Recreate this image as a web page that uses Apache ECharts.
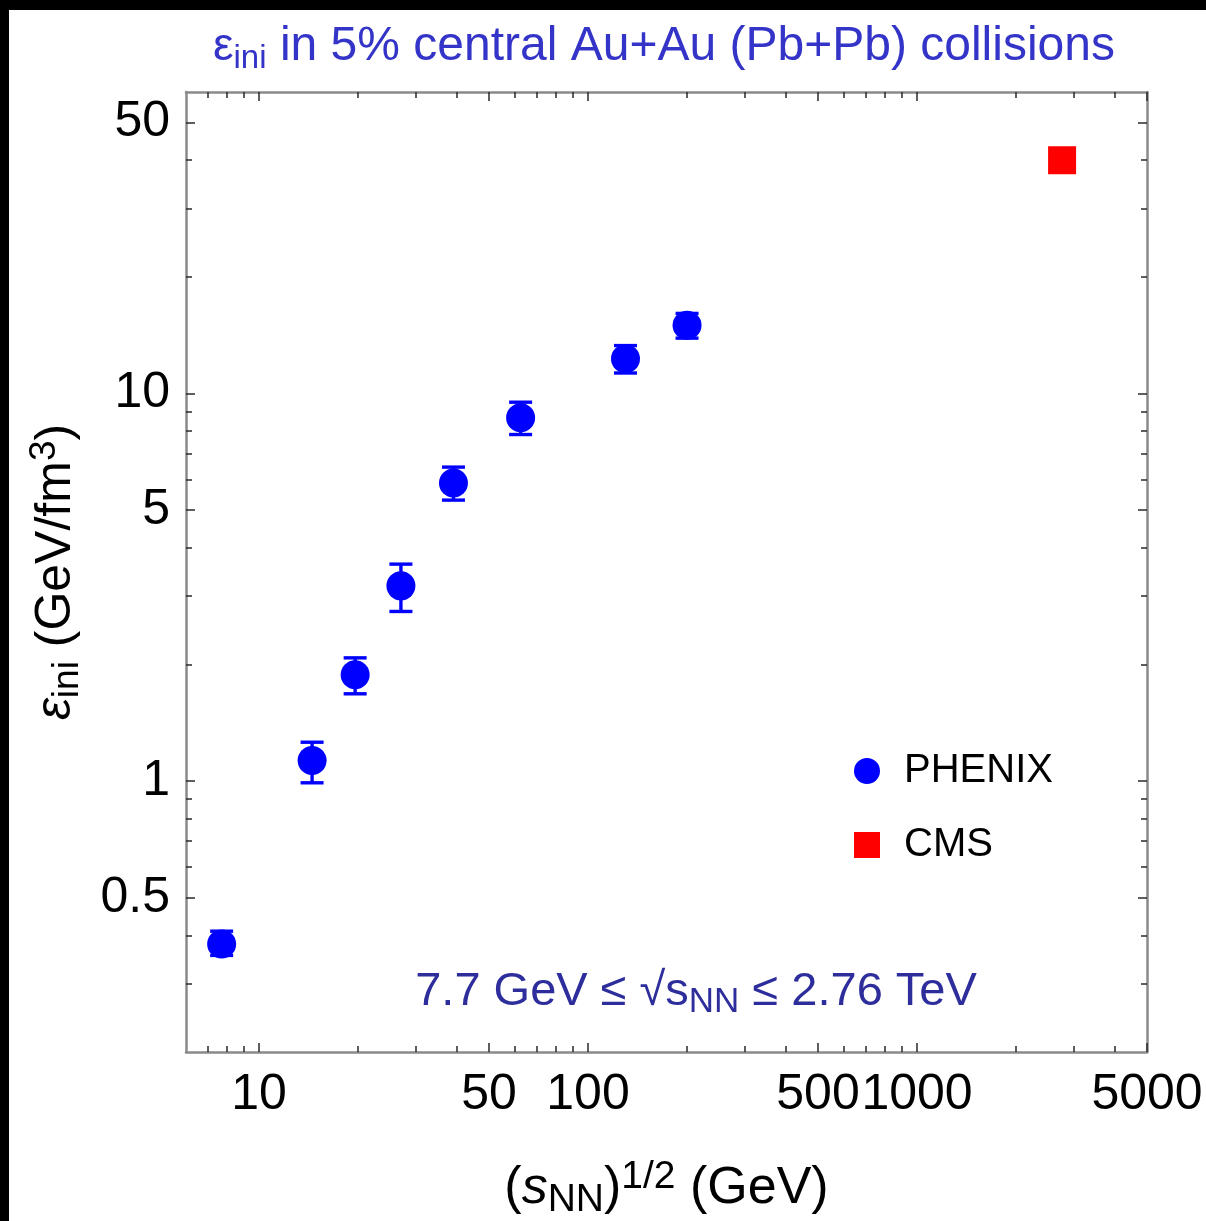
<!DOCTYPE html>
<html>
<head>
<meta charset="utf-8">
<script src="https://cdn.jsdelivr.net/npm/echarts@6/dist/echarts.min.js"></script>
<style>
  html, body { margin: 0; padding: 0; background: #000; width: 1206px; height: 1221px; overflow: hidden; }
  #chart { position: absolute; left: 9px; top: 10px; width: 1197px; height: 1211px; background: #fff; }
</style>
</head>
<body>
<div id="chart"></div>
<script>
// Initial energy density in 5% most central collisions vs. collision energy
const phenixEnergy  = [7.7, 14.5, 19.6, 27, 39, 62.4, 130, 200];           // GeV
const phenixEps     = [0.38, 1.13, 1.88, 3.19, 5.88, 8.66, 12.3, 15.0];     // GeV/fm^3
const phenixErrLow  = [0.355, 0.99, 1.68, 2.74, 5.31, 7.84, 11.3, 13.9];
const phenixErrHigh = [0.41, 1.26, 2.08, 3.63, 6.46, 9.5, 13.3, 16.1];
const cmsEnergy = [2760];
const cmsEps    = [40];

// Axis ticks (log scales)
const xMajorTicks = [10, 50, 100, 500, 1000, 5000];
const xMinorTicks = [7, 8, 9, 20, 30, 40, 60, 70, 80, 90, 200, 300, 400, 600, 700, 800, 900, 2000, 3000, 4000];
const yMajorTicks = [0.5, 1, 5, 10, 50];
const yMinorTicks = [0.3, 0.4, 0.6, 0.7, 0.8, 0.9, 2, 3, 4, 6, 7, 8, 9, 20, 30, 40];
const xRange = [6, 5000];
const yRange = [0.2, 60];

const FONT = "'Liberation Sans', Arial, Helvetica, sans-serif";
const FRAME = '#8a8a8a';
const TICK = '#2a2a2a';
const TITLE_BLUE = '#3434c8';
const NOTE_BLUE = '#2d2d9c';

function logAxis(range, position, ticks, tickLen, showLine, labels) {
  return {
    type: 'log',
    logBase: 10,
    position: position,
    min: range[0],
    max: range[1],
    splitLine: { show: false },
    axisLine: { show: showLine, lineStyle: { color: FRAME, width: 2.5 } },
    axisTick: { show: true, inside: true, length: tickLen, customValues: ticks,
                lineStyle: { color: TICK, width: 1.5 } },
    axisLabel: labels
      ? { show: true, customValues: labels, fontFamily: FONT, fontSize: 50, color: '#000',
          margin: 18, formatter: v => String(v), hideOverlap: false }
      : { show: false },
    minorTick: { show: false }
  };
}

const phenixPoints = phenixEnergy.map((x, i) => [x, phenixEps[i]]);
const phenixBars = phenixEnergy.map((x, i) => [x, phenixErrLow[i], phenixErrHigh[i]]);
const cmsPoints = cmsEnergy.map((x, i) => [x, cmsEps[i]]);

const xMain = logAxis(xRange, 'bottom', xMajorTicks, 9, true, xMajorTicks);
Object.assign(xMain, {
  name: '{t|(}{s|s}{sub|NN}{t|)}{sup|1/2}{t| (GeV)}',
  nameLocation: 'middle',
  nameGap: 106,
  nameTextStyle: {
    fontFamily: FONT, color: '#000',
    rich: {
      t:   { fontFamily: FONT, fontSize: 52, lineHeight: 62, color: '#000' },
      s:   { fontFamily: FONT, fontSize: 52, lineHeight: 62, fontStyle: 'italic', color: '#000' },
      sub: { fontFamily: FONT, fontSize: 39, lineHeight: 26, verticalAlign: 'bottom', color: '#000' },
      sup: { fontFamily: FONT, fontSize: 39, lineHeight: 24, verticalAlign: 'top', color: '#000' }
    }
  }
});

const yMain = logAxis(yRange, 'left', yMajorTicks, 9, true, yMajorTicks);
Object.assign(yMain, {
  name: '{e|ε}{sub|ini}{t| (GeV/fm}{sup|3}{t|)}',
  nameLocation: 'middle',
  nameRotate: 90,
  nameGap: 100,
  nameTextStyle: {
    fontFamily: FONT, color: '#000',
    rich: {
      t:   { fontFamily: FONT, fontSize: 50, lineHeight: 60, color: '#000' },
      e:   { fontFamily: FONT, fontSize: 50, lineHeight: 60, fontStyle: 'italic', color: '#000' },
      sub: { fontFamily: FONT, fontSize: 37, lineHeight: 26, verticalAlign: 'bottom', color: '#000' },
      sup: { fontFamily: FONT, fontSize: 37, lineHeight: 24, verticalAlign: 'top', color: '#000' }
    }
  }
});
yMain.axisLabel.margin = 16;

const option = {
  animation: false,
  backgroundColor: '#fff',
  title: [
    {
      text: '{e|ε}{sub|ini}{t| in 5% central Au+Au (Pb+Pb) collisions}',
      left: 650,
      top: 4,
      textAlign: 'center',
      textStyle: {
        fontWeight: 'normal',
        rich: {
          e:   { fontFamily: FONT, fontWeight: 'normal', fontSize: 46, lineHeight: 56, color: TITLE_BLUE },
          t:   { fontFamily: FONT, fontWeight: 'normal', fontSize: 48, lineHeight: 56, color: TITLE_BLUE },
          sub: { fontFamily: FONT, fontWeight: 'normal', fontSize: 33, lineHeight: 26, verticalAlign: 'bottom', color: TITLE_BLUE }
        }
      }
    },
    {
      text: '{t|7.7 GeV ≤ √s}{sub|NN}{t| ≤ 2.76 TeV}',
      left: 682,
      top: 949,
      textAlign: 'center',
      textStyle: {
        fontWeight: 'normal',
        rich: {
          t:   { fontFamily: FONT, fontWeight: 'normal', fontSize: 47, lineHeight: 56, color: NOTE_BLUE },
          sub: { fontFamily: FONT, fontWeight: 'normal', fontSize: 35, lineHeight: 26, verticalAlign: 'bottom', color: NOTE_BLUE }
        }
      }
    }
  ],
  legend: {
    data: [{ name: 'PHENIX', icon: 'circle' }, { name: 'CMS', icon: 'rect' }],
    orient: 'vertical',
    left: 840,
    top: 736,
    itemWidth: 26,
    itemHeight: 26,
    itemGap: 34,
    textStyle: { fontFamily: FONT, fontSize: 40, lineHeight: 40, color: '#000', padding: [0, 0, 0, 19] }
  },
  grid: { left: 177, top: 82, right: 59, bottom: 169, outerBoundsMode: 'none', containLabel: false },
  xAxis: [
    xMain,
    logAxis(xRange, 'bottom', xMinorTicks, 6, false, null),
    logAxis(xRange, 'top', xMajorTicks, 9, true, null),
    logAxis(xRange, 'top', xMinorTicks, 6, false, null)
  ],
  yAxis: [
    yMain,
    logAxis(yRange, 'left', yMinorTicks, 6, false, null),
    logAxis(yRange, 'right', yMajorTicks, 9, true, null),
    logAxis(yRange, 'right', yMinorTicks, 6, false, null)
  ],
  series: [
    {
      name: 'PHENIX error',
      type: 'custom',
      xAxisIndex: 0,
      yAxisIndex: 0,
      data: phenixBars,
      encode: { x: 0, y: [1, 2] },
      z: 2,
      renderItem: function (params, api) {
        const x = api.value(0);
        const lo = api.coord([x, api.value(1)]);
        const hi = api.coord([x, api.value(2)]);
        const hw = 11.5;
        const style = { stroke: '#0000ff', lineWidth: 3.4 };
        return {
          type: 'group',
          children: [
            { type: 'line', shape: { x1: lo[0], y1: lo[1], x2: hi[0], y2: hi[1] }, style: style },
            { type: 'line', shape: { x1: hi[0] - hw, y1: hi[1], x2: hi[0] + hw, y2: hi[1] }, style: style },
            { type: 'line', shape: { x1: lo[0] - hw, y1: lo[1], x2: lo[0] + hw, y2: lo[1] }, style: style }
          ]
        };
      }
    },
    {
      name: 'PHENIX',
      type: 'scatter',
      xAxisIndex: 0,
      yAxisIndex: 0,
      data: phenixPoints,
      symbol: 'circle',
      symbolSize: 29,
      itemStyle: { color: '#0000ff', opacity: 1 },
      z: 3
    },
    {
      name: 'CMS',
      type: 'scatter',
      xAxisIndex: 0,
      yAxisIndex: 0,
      data: cmsPoints,
      symbol: 'rect',
      symbolSize: 28,
      itemStyle: { color: '#ff0000', opacity: 1 },
      z: 3
    }
  ]
};

const chart = echarts.init(document.getElementById('chart'), null, { renderer: 'canvas' });
chart.setOption(option);
</script>
</body>
</html>
